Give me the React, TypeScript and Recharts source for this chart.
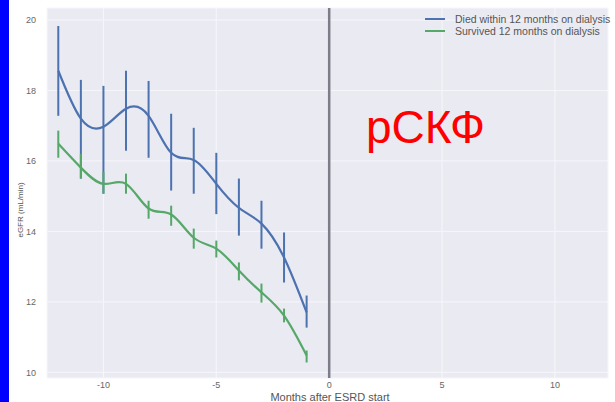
import { LineChart, Line, XAxis, YAxis, CartesianGrid, ReferenceLine, ErrorBar } from "recharts";

const months = [-12, -11, -10, -9, -8, -7, -6, -5, -4, -3, -2, -1];

const diedMean = [18.56, 17.2, 16.97, 17.48, 17.28, 16.23, 16.03, 15.35, 14.67, 14.22, 13.26, 11.7];
const diedLow = [17.28, 15.5, 15.07, 16.29, 16.09, 15.16, 15.07, 14.49, 13.88, 13.51, 12.55, 11.27];
const diedHigh = [19.83, 18.3, 18.13, 18.56, 18.27, 17.34, 16.94, 16.23, 15.5, 14.87, 13.97, 12.18];

const survMean = [16.49, 15.81, 15.35, 15.35, 14.65, 14.48, 13.82, 13.51, 12.89, 12.27, 11.61, 10.48];
const survLow = [16.09, 15.5, 15.07, 15.07, 14.36, 14.16, 13.51, 13.26, 12.61, 11.98, 11.42, 10.28];
const survHigh = [16.86, 16.2, 15.69, 15.64, 14.87, 14.73, 14.08, 13.74, 13.12, 12.52, 11.81, 10.62];

const xTicks = [-10, -5, 0, 5, 10];
const yTicks = [10, 12, 14, 16, 18, 20];

const seriesNames = ["Died within 12 months on dialysis", "Survived 12 months on dialysis"];

const BLUE = "#4c72b0";
const GREEN = "#55a868";
const FONT = "'Liberation Sans', Arial, sans-serif";

const data = months.map((m, i) => ({
  month: m,
  died: diedMean[i],
  diedErr: [diedMean[i] - diedLow[i], diedHigh[i] - diedMean[i]],
  surv: survMean[i],
  survErr: [survMean[i] - survLow[i], survHigh[i] - survMean[i]],
}));

// legend drawn as an overlay so it doesn't eat plot width
function LegendBox() {
  const colors = [BLUE, GREEN];
  return (
    <div style={{ position: "absolute", left: 425, top: 13, fontFamily: FONT, fontSize: 10.5, color: "#555" }}>
      {seriesNames.map((name, i) => (
        <div key={name} style={{ display: "flex", alignItems: "center", height: 12 }}>
          <div style={{ width: 20, height: 2, background: colors[i], marginRight: 10 }} />
          <span>{name}</span>
        </div>
      ))}
    </div>
  );
}

export default function App() {
  const tick = { fontSize: 9, fill: "#666", fontFamily: FONT };
  return (
    <div style={{ position: "absolute", left: 0, top: 0, width: 615, height: 402, background: "#fff", overflow: "hidden" }}>
      <LineChart width={615} height={402} data={data} margin={{ top: 8, right: 7, bottom: 0, left: 0 }}>
        <CartesianGrid fill="#eaeaf2" stroke="#f6f6fa" strokeWidth={1} />
        <XAxis
          type="number"
          dataKey="month"
          domain={[-12.5, 12.35]}
          ticks={xTicks}
          axisLine={false}
          tickLine={false}
          tick={{ ...tick, dy: -2 }}
          height={24}
          tickMargin={0}
        />
        <YAxis
          type="number"
          domain={[9.84, 20.34]}
          ticks={yTicks}
          axisLine={false}
          tickLine={false}
          tick={tick}
          width={47}
          tickMargin={5}
        />
        <ReferenceLine x={0} stroke="#7d7d8a" strokeWidth={2.5} />
        <Line
          type="natural"
          dataKey="died"
          stroke={BLUE}
          strokeWidth={2.2}
          dot={false}
          isAnimationActive={false}
        >
          <ErrorBar dataKey="diedErr" direction="y" width={0} stroke={BLUE} strokeWidth={2} />
        </Line>
        <Line
          type="natural"
          dataKey="surv"
          stroke={GREEN}
          strokeWidth={2.2}
          dot={false}
          isAnimationActive={false}
        >
          <ErrorBar dataKey="survErr" direction="y" width={0} stroke={GREEN} strokeWidth={2} />
        </Line>
      </LineChart>
      <LegendBox />
      <div style={{ position: "absolute", left: 0, top: 0, width: 9, height: 402, background: "#0000ff" }} />
      <div
        style={{
          position: "absolute",
          left: 20,
          top: 210,
          transform: "translate(-50%, -50%) rotate(-90deg)",
          fontFamily: FONT,
          fontSize: 8,
          color: "#555",
          whiteSpace: "nowrap",
        }}
      >
        eGFR (mL/min)
      </div>
      <div
        style={{
          position: "absolute",
          left: 330,
          top: 392,
          transform: "translateX(-50%)",
          fontFamily: FONT,
          fontSize: 11,
          lineHeight: 1,
          color: "#555",
          whiteSpace: "nowrap",
        }}
      >
        Months after ESRD start
      </div>
      <div
        style={{
          position: "absolute",
          left: 366,
          top: 104,
          fontFamily: FONT,
          fontSize: 46,
          color: "#ff0000",
          whiteSpace: "nowrap",
          lineHeight: 1,
        }}
      >
        рСКФ
      </div>
    </div>
  );
}
